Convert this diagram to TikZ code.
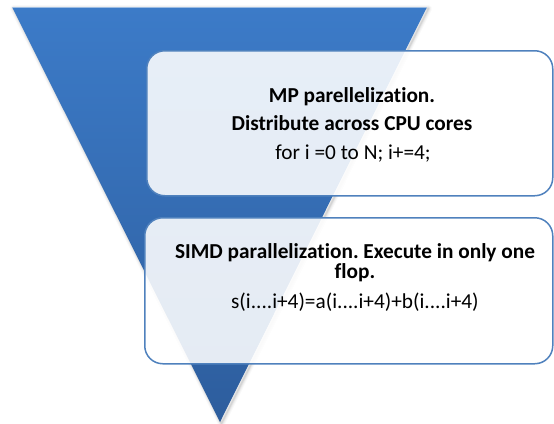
\documentclass[tikz,border=0pt]{standalone}
\usepackage{fontspec}
\setmainfont[Ligatures={NoCommon}]{Carlito}
\frenchspacing
\definecolor{tritop}{RGB}{60,123,200}
\definecolor{tribot}{RGB}{45,93,157}
\definecolor{boxline}{RGB}{79,129,189}
\begin{document}
\begin{tikzpicture}[x=1pt,y=-1pt,
  boxstyle/.style={draw=boxline, line width=1.5pt, rounded corners=18pt, fill=white, fill opacity=0.88, inner sep=0pt, anchor=north west},
  txt/.style={font=\fontsize{21.3}{25}\selectfont, text=black, anchor=base, inner sep=0pt}]
\useasboundingbox (0,0) rectangle (554,423);
% soft shadow of the triangle
\foreach \w/\o in {7/0.025,5/0.035,3/0.05,1.5/0.07}{
  \draw[black, draw opacity=\o, line width=\w pt, line join=round]
    (13.5,8.5) -- (428.5,8.5) -- (221.5,423.5) -- cycle;
}
% inverted triangle
\shade[top color=tritop, bottom color=tribot] (12,7) -- (427,7) -- (220,422) -- cycle;
\draw[white, draw opacity=0.5, line width=0.6pt] (12,7.3) -- (427,7.3);
% boxes
\node[boxstyle, minimum width=406pt, minimum height=145pt] (box1) at (146,50) {};
\node[boxstyle, minimum width=408pt, minimum height=146pt] (box2) at (144,217) {};
% texts
\node[txt] (l1) at (352,102) {\bfseries MP parellelization.};
\node[txt] (l2) at (352,130.5) {\bfseries Distribute across CPU cores};
\node[txt] (l3) at (353,159) {for i =0 to N; i+=4;};
\node[txt] (l4) at (355,258) {\bfseries SIMD parallelization. Execute in only one};
\node[txt] (l5) at (355,278.5) {\bfseries flop.};
\node[txt] (l6) at (355,308) {s(i....i+4)=a(i....i+4)+b(i....i+4)};
\end{tikzpicture}
\end{document}
